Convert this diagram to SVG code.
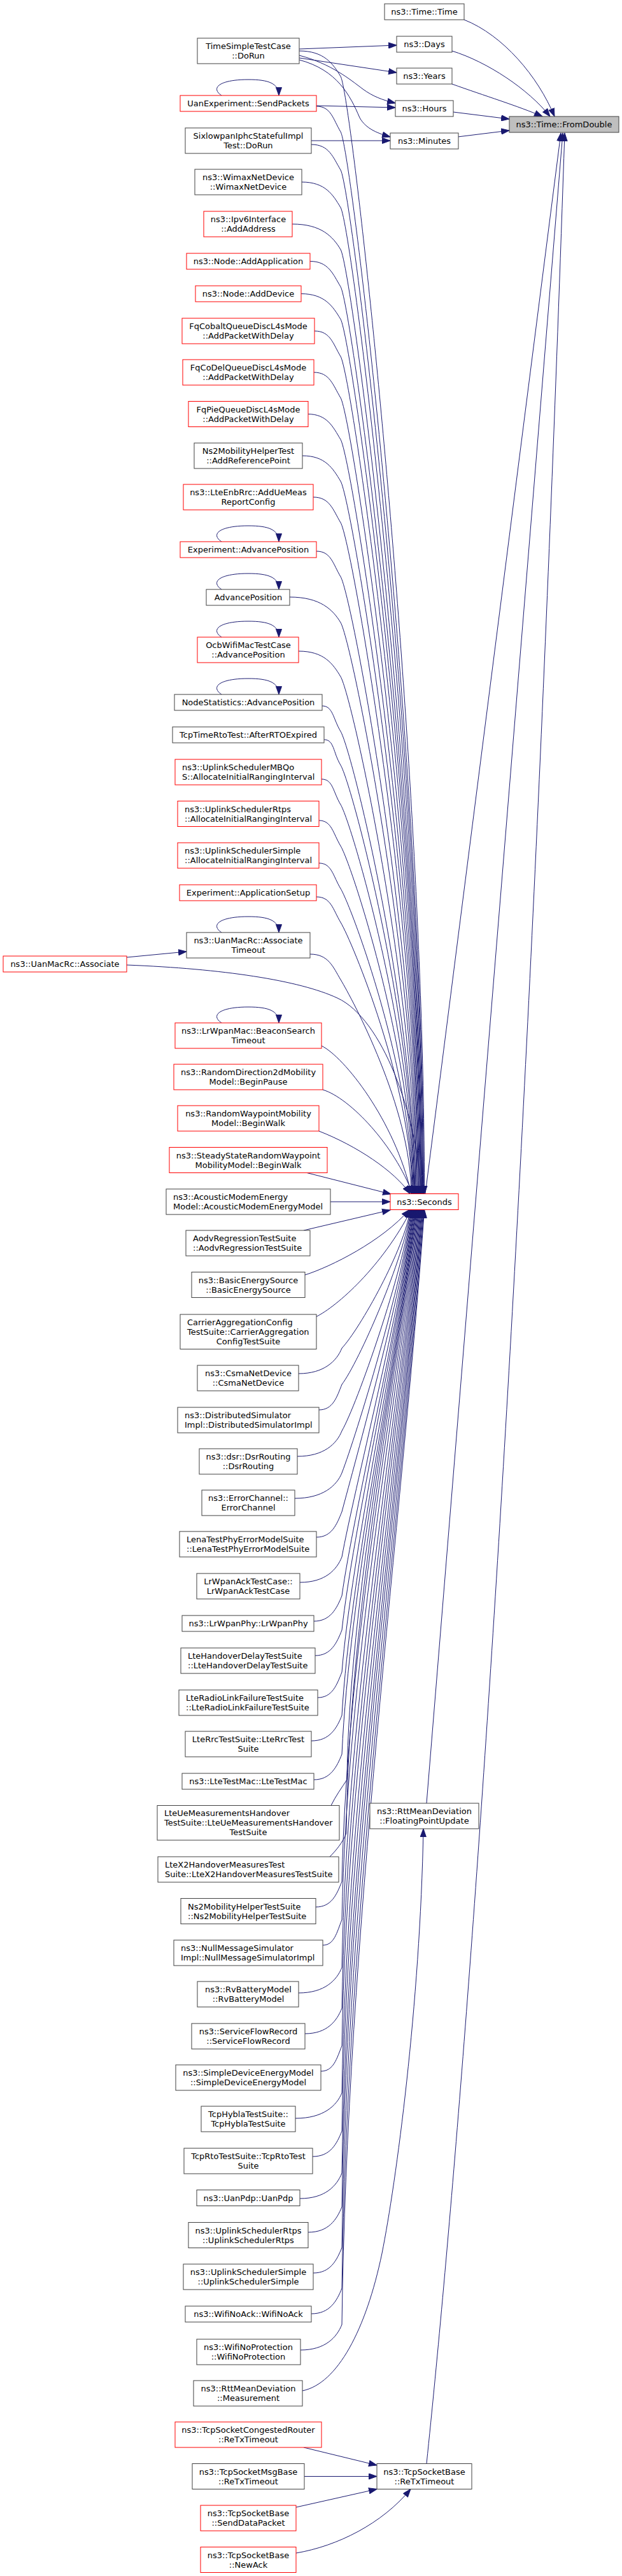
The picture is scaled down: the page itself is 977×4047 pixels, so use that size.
<svg xmlns="http://www.w3.org/2000/svg" width="977" height="4047" viewBox="0 0 977 4047">
<defs>
<style>
.b{fill:#fff;stroke:#404040;stroke-width:1}
.r{fill:#fff;stroke:#ff0000;stroke-width:1}
.g{fill:#bfbfbf;stroke:#404040;stroke-width:1}
text{font-family:"DejaVu Sans","Liberation Sans",sans-serif;font-size:13px;fill:#000}
.c{text-anchor:middle}
.e path{fill:none;stroke:#191970;stroke-width:1;marker-end:url(#a)}
</style>
<marker id="a" viewBox="0 0 13.5 10" refX="13" refY="5" markerWidth="13.5" markerHeight="10" orient="auto" markerUnits="userSpaceOnUse">
<path d="M0.5,0.5 L13,5 L0.5,9.5 z" fill="#191970" stroke="#191970" stroke-width="1"/>
</marker>
</defs>
<rect width="977" height="4047" fill="#fff"/>
<g id="edges" class="e">
<path d="M729,31 C790,55 845,120 871,183"/>
<path d="M710,80 C765,97 830,140 864,183"/>
<path d="M710,132 C760,150 815,167 852,183"/>
<path d="M712,176 L800,187"/>
<path d="M719,215 L800,205"/>
<path d="M668,1875.5 L881,209"/>
<path d="M670,2833 L884,209"/>
<path d="M670,3870.5 C740,3200 830,1900 887,209"/>
<path d="M470,77 L623,71"/>
<path d="M470,91 L623,114"/>
<path d="M470,87 C520,100 550,125 570,140 C585,151 600,157 621,162"/>
<path d="M470,94 C530,110 550,150 565,185 C575,203 595,210 613,215"/>
<path d="M497,166 L621,169"/>
<path d="M489,221 L613,221"/>
<path d="M348,150 C330,138 345,125 390,125 C422,125 438,131 438,150"/>
<path d="M348,851 C330,839 345,826 390,826 C422,826 438,832 438,851"/>
<path d="M348,926 C330,914 345,901 390,901 C422,901 438,907 438,926"/>
<path d="M348,1001 C330,989 345,976 390,976 C422,976 438,982 438,1001"/>
<path d="M348,1091 C330,1079 345,1066 390,1066 C422,1066 438,1072 438,1091"/>
<path d="M348,1465 C330,1453 345,1440 390,1440 C422,1440 438,1446 438,1465"/>
<path d="M348,1607 C330,1595 345,1582 390,1582 C422,1582 438,1588 438,1607"/>
<path d="M470,80 C509,80 523,100 535,120 C553,150 666.6,1173 666.6,1875.5"/>
<path d="M497,167 C520,167 523,187 535,207 C553,237 665.4,1208 665.4,1875.5"/>
<path d="M489,227 C517,227 523,247 535,267 C553,297 664.6,1232 664.6,1875.5"/>
<path d="M474,286 C511,286 523,306 535,326 C553,356 663.6,1256 663.6,1875.5"/>
<path d="M459,352 C505,352 523,372 535,392 C553,422 662.6,1282 662.6,1875.5"/>
<path d="M487,410.5 C516,410.5 523,430.5 535,450.5 C553,480.5 661.8,1305.5 661.8,1875.5"/>
<path d="M473,461.5 C510,461.5 523,481.5 535,501.5 C553,531.5 661,1326 661,1875.5"/>
<path d="M494,520 C519,520 523,540 535,560 C553,590 660.2,1349 660.2,1875.5"/>
<path d="M493,585 C518,585 523,605 535,625 C553,655 659.2,1375 659.2,1875.5"/>
<path d="M483,650.5 C514,650.5 523,670.5 535,690.5 C553,720.5 658.2,1401.5 658.2,1875.5"/>
<path d="M475,716 C511,716 523,736 535,756 C553,786 657.3,1428 657.3,1875.5"/>
<path d="M492,781 C518,781 523,801 535,821 C553,851 656.3,1454 656.3,1875.5"/>
<path d="M497,866 C520,866 523,886 535,906 C553,936 655.1,1488 655.1,1875.5"/>
<path d="M455,938 C503,938 523,958 535,978 C553,1008 654,1516.5 654,1875.5"/>
<path d="M469,1023 C509,1023 523,1043 535,1063 C553,1093 652.8,1550.5 652.8,1875.5"/>
<path d="M506,1109 C523,1109 523,1129 535,1149 C553,1179 651.6,1585 651.6,1875.5"/>
<path d="M509,1162 C525,1162 523,1182 535,1202 C553,1232 650.8,1606 650.8,1875.5"/>
<path d="M505,1224 C523,1224 523,1244 535,1264 C553,1294 649.9,1631 649.9,1875.5"/>
<path d="M501,1289 C521,1289 523,1309 535,1329 C553,1359 649,1657 649,1875.5"/>
<path d="M501,1356 C521,1356 523,1376 535,1396 C553,1426 648,1684 648,1875.5"/>
<path d="M497,1409 C520,1409 523,1429 535,1449 C553,1479 647.2,1705 647.2,1875.5"/>
<path d="M487,1499 C516,1499 523,1519 535,1539 C553,1569 645.9,1741 645.9,1875.5"/>
<path d="M199,1504 L293,1495"/>
<path d="M199,1516 C350,1522 470,1540 530,1568 C600,1600 655,1750 662,1875.5"/>
<path d="M505,1643 C540,1660 620,1760 646,1875.5"/>
<path d="M507,1712 C550,1725 620,1800 648,1875.5"/>
<path d="M501,1777 C560,1800 620,1840 644,1875.5"/>
<path d="M482,1842.5 L614,1876"/>
<path d="M519,1888 L613,1888"/>
<path d="M477,1933 L613,1901"/>
<path d="M479,2003 C520,1990 600,1950 643,1900.5"/>
<path d="M496,2069 C530,2052 600,1990 646,1900.5"/>
<path d="M469,2158 C509,2158 529,2138 537,2118 C565,2088 636.5,1961 644.1,1900.5"/>
<path d="M501,2215 C523,2215 529,2195 537,2175 C563,2141 635.5,1977 645.1,1900.5"/>
<path d="M467,2288 C509,2288 529,2268 537,2248 C561,2206 633.8,1998 646,1900.5"/>
<path d="M463,2354 C507,2354 529,2334 537,2314 C560,2254 632.5,2016 647,1900.5"/>
<path d="M497,2415 C521,2415 529,2395 537,2375 C558,2296 631.3,2033 647.9,1900.5"/>
<path d="M471,2486 C511,2486 529,2466 537,2446 C556,2342 629.8,2053 648.9,1900.5"/>
<path d="M493,2547 C519,2547 529,2527 537,2507 C555,2378 628.6,2070 649.8,1900.5"/>
<path d="M495,2601 C520,2601 529,2581 537,2561 C553.5,2408 627.5,2085 650.6,1900.5"/>
<path d="M499,2667 C522,2667 529,2647 537,2627 C552,2442 626.2,2104 651.6,1900.5"/>
<path d="M489,2735 C518,2735 529,2715 537,2695 C550,2474 624.8,2123 652.6,1900.5"/>
<path d="M493,2796 C519,2796 529,2776 537,2756 C548.6,2500 623.5,2140 653.4,1900.5"/>
<path d="M520,2836.5 C527,2822 537,2808 545,2796 C548,2515 623.1,2151 654.4,1900.5"/>
<path d="M518,2917 C528,2907 538,2895 544,2880 C547,2543 621.3,2174 655.5,1900.5"/>
<path d="M496,2996 C521,2996 529,2976 537,2956 C545,2587 621.4,2196 656.4,1900.5"/>
<path d="M507,3056 C525,3056 529,3036 537,3016 C545,2626 622.4,2213 657.4,1900.5"/>
<path d="M469,3131 C510,3131 529,3111 537,3091 C545,2674 623.3,2234 658.3,1900.5"/>
<path d="M479,3195 C514,3195 529,3175 537,3155 C545,2716 624.3,2252 659.3,1900.5"/>
<path d="M504,3254 C524,3254 529,3234 537,3214 C545,2754 625.3,2268 660.3,1900.5"/>
<path d="M464,3328 C508,3328 529,3308 537,3288 C545,2802 626.2,2289 661.2,1900.5"/>
<path d="M491,3388 C519,3388 529,3368 537,3348 C545,2841 627.2,2306 662.2,1900.5"/>
<path d="M471,3454 C511,3454 529,3434 537,3414 C545,2884 628.1,2324 663.1,1900.5"/>
<path d="M484,3507 C516,3507 529,3487 537,3467 C545,2919 628.9,2339 663.9,1900.5"/>
<path d="M492,3571 C519,3571 529,3551 537,3531 C545,2960 629.9,2357 664.9,1900.5"/>
<path d="M489,3635 C518,3635 529,3615 537,3595 C545,3002 630.8,2375 665.8,1900.5"/>
<path d="M472,3692 C511,3692 529,3672 537,3652 C545,3039 631.6,2391 666.6,1900.5"/>
<path d="M475,3756 C530,3745 575,3660 600,3540 C622,3430 660,3150 665,2873"/>
<path d="M477,3845 L592,3873"/>
<path d="M478,3890.5 L592,3890.5"/>
<path d="M465,3939 L592,3910.5"/>
<path d="M465,4011 C530,4000 600,3965 645,3910.5"/>
</g>
<g id="n_time"><rect class="b" x="604" y="6" width="125" height="25"/><text class="c" x="666.5" y="23.1">ns3::Time::Time</text></g>
<g id="n_days"><rect class="b" x="623" y="57" width="87" height="25"/><text class="c" x="666.5" y="74.1">ns3::Days</text></g>
<g id="n_years"><rect class="b" x="623" y="107" width="87" height="25"/><text class="c" x="666.5" y="124.1">ns3::Years</text></g>
<g id="n_hours"><rect class="b" x="621" y="158" width="91" height="25"/><text class="c" x="666.5" y="175.1">ns3::Hours</text></g>
<g id="n_minutes"><rect class="b" x="613" y="209" width="107" height="25"/><text class="c" x="666.5" y="226.1">ns3::Minutes</text></g>
<g id="n_fromdouble"><rect class="g" x="800" y="183" width="172" height="25"/><text class="c" x="886" y="200.1">ns3::Time::FromDouble</text></g>
<g id="n_seconds"><rect class="r" x="613" y="1875.5" width="107" height="25"/><text class="c" x="666.5" y="1892.6">ns3::Seconds</text></g>
<g id="n_fpu"><rect class="b" x="581" y="2833" width="171" height="40"/><text class="c" x="666.5" y="2850.1">ns3::RttMeanDeviation</text><text class="c" x="666.5" y="2865.1">::FloatingPointUpdate</text></g>
<g id="n_retx"><rect class="b" x="592" y="3870.5" width="149" height="40"/><text class="c" x="666.5" y="3887.6">ns3::TcpSocketBase</text><text class="c" x="666.5" y="3902.6">::ReTxTimeout</text></g>
<g id="n_associate"><rect class="r" x="5" y="1502" width="194" height="25"/><text class="c" x="102" y="1519.1">ns3::UanMacRc::Associate</text></g>
<g id="n1"><rect class="b" x="310" y="60" width="160" height="40"/><text class="c" x="390" y="77.1">TimeSimpleTestCase</text><text class="c" x="390" y="92.1">::DoRun</text></g>
<g id="n2"><rect class="r" x="283" y="150" width="214" height="25"/><text class="c" x="390" y="167.1">UanExperiment::SendPackets</text></g>
<g id="n3"><rect class="b" x="291" y="201" width="198" height="40"/><text class="c" x="390" y="218.1">SixlowpanIphcStatefulImpl</text><text class="c" x="390" y="233.1">Test::DoRun</text></g>
<g id="n4"><rect class="b" x="306" y="266" width="168" height="40"/><text class="c" x="390" y="283.1">ns3::WimaxNetDevice</text><text class="c" x="390" y="298.1">::WimaxNetDevice</text></g>
<g id="n5"><rect class="r" x="320" y="332" width="139" height="40"/><text class="c" x="390" y="349.1">ns3::Ipv6Interface</text><text class="c" x="390" y="364.1">::AddAddress</text></g>
<g id="n6"><rect class="r" x="293" y="398" width="194" height="25"/><text class="c" x="390" y="415.1">ns3::Node::AddApplication</text></g>
<g id="n7"><rect class="r" x="307" y="449" width="166" height="25"/><text class="c" x="390" y="466.1">ns3::Node::AddDevice</text></g>
<g id="n8"><rect class="r" x="286" y="500" width="208" height="40"/><text class="c" x="390" y="517.1">FqCobaltQueueDiscL4sMode</text><text class="c" x="390" y="532.1">::AddPacketWithDelay</text></g>
<g id="n9"><rect class="r" x="287" y="565" width="206" height="40"/><text class="c" x="390" y="582.1">FqCoDelQueueDiscL4sMode</text><text class="c" x="390" y="597.1">::AddPacketWithDelay</text></g>
<g id="n10"><rect class="r" x="296" y="630.5" width="188" height="40"/><text class="c" x="390" y="647.6">FqPieQueueDiscL4sMode</text><text class="c" x="390" y="662.6">::AddPacketWithDelay</text></g>
<g id="n11"><rect class="b" x="305" y="696" width="170" height="40"/><text class="c" x="390" y="713.1">Ns2MobilityHelperTest</text><text class="c" x="390" y="728.1">::AddReferencePoint</text></g>
<g id="n12"><rect class="r" x="288" y="761" width="204" height="40"/><text class="c" x="390" y="778.1">ns3::LteEnbRrc::AddUeMeas</text><text class="c" x="390" y="793.1">ReportConfig</text></g>
<g id="n13"><rect class="r" x="283" y="851" width="214" height="25"/><text class="c" x="390" y="868.1">Experiment::AdvancePosition</text></g>
<g id="n14"><rect class="b" x="324" y="926" width="131" height="25"/><text class="c" x="390" y="943.1">AdvancePosition</text></g>
<g id="n15"><rect class="r" x="310" y="1001" width="159" height="40"/><text class="c" x="390" y="1018.1">OcbWifiMacTestCase</text><text class="c" x="390" y="1033.1">::AdvancePosition</text></g>
<g id="n16"><rect class="b" x="274" y="1091" width="232" height="25"/><text class="c" x="390" y="1108.1">NodeStatistics::AdvancePosition</text></g>
<g id="n17"><rect class="b" x="271" y="1142" width="238" height="25"/><text class="c" x="390" y="1159.1">TcpTimeRtoTest::AfterRTOExpired</text></g>
<g id="n18"><rect class="r" x="275" y="1193" width="230" height="40"/><text x="286" y="1210.1">ns3::UplinkSchedulerMBQo</text><text x="286" y="1225.1">S::AllocateInitialRangingInterval</text></g>
<g id="n19"><rect class="r" x="279" y="1258.5" width="222" height="40"/><text x="290" y="1275.6">ns3::UplinkSchedulerRtps</text><text x="290" y="1290.6">::AllocateInitialRangingInterval</text></g>
<g id="n20"><rect class="r" x="279" y="1324" width="222" height="40"/><text x="290" y="1341.1">ns3::UplinkSchedulerSimple</text><text x="290" y="1356.1">::AllocateInitialRangingInterval</text></g>
<g id="n21"><rect class="r" x="282" y="1390" width="215" height="25"/><text class="c" x="390" y="1407.1">Experiment::ApplicationSetup</text></g>
<g id="n22"><rect class="b" x="293" y="1465" width="194" height="40"/><text class="c" x="390" y="1482.1">ns3::UanMacRc::Associate</text><text class="c" x="390" y="1497.1">Timeout</text></g>
<g id="n23"><rect class="r" x="275" y="1607" width="230" height="40"/><text class="c" x="390" y="1624.1">ns3::LrWpanMac::BeaconSearch</text><text class="c" x="390" y="1639.1">Timeout</text></g>
<g id="n24"><rect class="r" x="273" y="1672" width="234" height="40"/><text class="c" x="390" y="1689.1">ns3::RandomDirection2dMobility</text><text class="c" x="390" y="1704.1">Model::BeginPause</text></g>
<g id="n25"><rect class="r" x="279" y="1737" width="222" height="40"/><text class="c" x="390" y="1754.1">ns3::RandomWaypointMobility</text><text class="c" x="390" y="1769.1">Model::BeginWalk</text></g>
<g id="n26"><rect class="r" x="266" y="1802.5" width="248" height="40"/><text class="c" x="390" y="1819.6">ns3::SteadyStateRandomWaypoint</text><text class="c" x="390" y="1834.6">MobilityModel::BeginWalk</text></g>
<g id="n27"><rect class="b" x="261" y="1868" width="258" height="40"/><text x="272" y="1885.1">ns3::AcousticModemEnergy</text><text x="272" y="1900.1">Model::AcousticModemEnergyModel</text></g>
<g id="n28"><rect class="b" x="292" y="1933" width="195" height="40"/><text x="303" y="1950.1">AodvRegressionTestSuite</text><text x="303" y="1965.1">::AodvRegressionTestSuite</text></g>
<g id="n29"><rect class="b" x="301" y="1998.5" width="178" height="40"/><text class="c" x="390" y="2015.6">ns3::BasicEnergySource</text><text class="c" x="390" y="2030.6">::BasicEnergySource</text></g>
<g id="n30"><rect class="b" x="283" y="2065" width="214" height="54.5"/><text x="294" y="2081.9">CarrierAggregationConfig</text><text x="294" y="2096.9">TestSuite::CarrierAggregation</text><text class="c" x="390" y="2111.9">ConfigTestSuite</text></g>
<g id="n31"><rect class="b" x="310" y="2145" width="159" height="40"/><text class="c" x="390" y="2162.1">ns3::CsmaNetDevice</text><text class="c" x="390" y="2177.1">::CsmaNetDevice</text></g>
<g id="n32"><rect class="b" x="279" y="2211" width="222" height="40"/><text x="290" y="2228.1">ns3::DistributedSimulator</text><text x="290" y="2243.1">Impl::DistributedSimulatorImpl</text></g>
<g id="n33"><rect class="b" x="313" y="2276" width="154" height="40"/><text class="c" x="390" y="2293.1">ns3::dsr::DsrRouting</text><text class="c" x="390" y="2308.1">::DsrRouting</text></g>
<g id="n34"><rect class="b" x="317" y="2341" width="146" height="40"/><text class="c" x="390" y="2358.1">ns3::ErrorChannel::</text><text class="c" x="390" y="2373.1">ErrorChannel</text></g>
<g id="n35"><rect class="b" x="282" y="2406" width="215" height="40"/><text x="293" y="2423.1">LenaTestPhyErrorModelSuite</text><text x="293" y="2438.1">::LenaTestPhyErrorModelSuite</text></g>
<g id="n36"><rect class="b" x="309" y="2472" width="162" height="40"/><text class="c" x="390" y="2489.1">LrWpanAckTestCase::</text><text class="c" x="390" y="2504.1">LrWpanAckTestCase</text></g>
<g id="n37"><rect class="b" x="286" y="2538" width="207" height="25"/><text class="c" x="390" y="2555.1">ns3::LrWpanPhy::LrWpanPhy</text></g>
<g id="n38"><rect class="b" x="284" y="2589" width="211" height="40"/><text x="295" y="2606.1">LteHandoverDelayTestSuite</text><text x="295" y="2621.1">::LteHandoverDelayTestSuite</text></g>
<g id="n39"><rect class="b" x="281" y="2655" width="218" height="40"/><text x="292" y="2672.1">LteRadioLinkFailureTestSuite</text><text x="292" y="2687.1">::LteRadioLinkFailureTestSuite</text></g>
<g id="n40"><rect class="b" x="291" y="2720" width="198" height="40"/><text class="c" x="390" y="2737.1">LteRrcTestSuite::LteRrcTest</text><text class="c" x="390" y="2752.1">Suite</text></g>
<g id="n41"><rect class="b" x="286" y="2786" width="207" height="25"/><text class="c" x="390" y="2803.1">ns3::LteTestMac::LteTestMac</text></g>
<g id="n42"><rect class="b" x="247" y="2836.5" width="286" height="54.5"/><text x="258" y="2853.4">LteUeMeasurementsHandover</text><text x="258" y="2868.4">TestSuite::LteUeMeasurementsHandover</text><text class="c" x="390" y="2883.4">TestSuite</text></g>
<g id="n43"><rect class="b" x="248" y="2917" width="284" height="40"/><text x="259" y="2934.1">LteX2HandoverMeasuresTest</text><text x="259" y="2949.1">Suite::LteX2HandoverMeasuresTestSuite</text></g>
<g id="n44"><rect class="b" x="284" y="2982.5" width="212" height="40"/><text x="295" y="2999.6">Ns2MobilityHelperTestSuite</text><text x="295" y="3014.6">::Ns2MobilityHelperTestSuite</text></g>
<g id="n45"><rect class="b" x="273" y="3048" width="234" height="40"/><text x="284" y="3065.1">ns3::NullMessageSimulator</text><text x="284" y="3080.1">Impl::NullMessageSimulatorImpl</text></g>
<g id="n46"><rect class="b" x="310" y="3113" width="159" height="40"/><text class="c" x="390" y="3130.1">ns3::RvBatteryModel</text><text class="c" x="390" y="3145.1">::RvBatteryModel</text></g>
<g id="n47"><rect class="b" x="301" y="3179" width="178" height="40"/><text class="c" x="390" y="3196.1">ns3::ServiceFlowRecord</text><text class="c" x="390" y="3211.1">::ServiceFlowRecord</text></g>
<g id="n48"><rect class="b" x="276" y="3244" width="228" height="40"/><text class="c" x="390" y="3261.1">ns3::SimpleDeviceEnergyModel</text><text class="c" x="390" y="3276.1">::SimpleDeviceEnergyModel</text></g>
<g id="n49"><rect class="b" x="316" y="3309" width="148" height="40"/><text class="c" x="390" y="3326.1">TcpHyblaTestSuite::</text><text class="c" x="390" y="3341.1">TcpHyblaTestSuite</text></g>
<g id="n50"><rect class="b" x="289" y="3375" width="202" height="40"/><text class="c" x="390" y="3392.1">TcpRtoTestSuite::TcpRtoTest</text><text class="c" x="390" y="3407.1">Suite</text></g>
<g id="n51"><rect class="b" x="309" y="3440.5" width="162" height="25"/><text class="c" x="390" y="3457.6">ns3::UanPdp::UanPdp</text></g>
<g id="n52"><rect class="b" x="296" y="3491.5" width="188" height="40"/><text class="c" x="390" y="3508.6">ns3::UplinkSchedulerRtps</text><text class="c" x="390" y="3523.6">::UplinkSchedulerRtps</text></g>
<g id="n53"><rect class="b" x="288" y="3557" width="204" height="40"/><text class="c" x="390" y="3574.1">ns3::UplinkSchedulerSimple</text><text class="c" x="390" y="3589.1">::UplinkSchedulerSimple</text></g>
<g id="n54"><rect class="b" x="291" y="3623" width="198" height="25"/><text class="c" x="390" y="3640.1">ns3::WifiNoAck::WifiNoAck</text></g>
<g id="n55"><rect class="b" x="309" y="3675" width="163" height="40"/><text class="c" x="390" y="3692.1">ns3::WifiNoProtection</text><text class="c" x="390" y="3707.1">::WifiNoProtection</text></g>
<g id="n56"><rect class="b" x="304" y="3740" width="171" height="40"/><text class="c" x="390" y="3757.1">ns3::RttMeanDeviation</text><text class="c" x="390" y="3772.1">::Measurement</text></g>
<g id="n57"><rect class="r" x="275" y="3805" width="230" height="40"/><text class="c" x="390" y="3822.1">ns3::TcpSocketCongestedRouter</text><text class="c" x="390" y="3837.1">::ReTxTimeout</text></g>
<g id="n58"><rect class="b" x="302" y="3870.5" width="176" height="40"/><text class="c" x="390" y="3887.6">ns3::TcpSocketMsgBase</text><text class="c" x="390" y="3902.6">::ReTxTimeout</text></g>
<g id="n59"><rect class="r" x="315" y="3936" width="150" height="40"/><text class="c" x="390" y="3953.1">ns3::TcpSocketBase</text><text class="c" x="390" y="3968.1">::SendDataPacket</text></g>
<g id="n60"><rect class="r" x="315" y="4001.5" width="150" height="40"/><text class="c" x="390" y="4018.6">ns3::TcpSocketBase</text><text class="c" x="390" y="4033.6">::NewAck</text></g>
</svg>
